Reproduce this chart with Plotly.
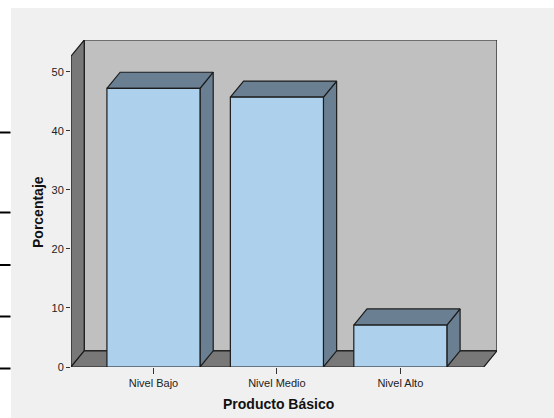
import plotly.graph_objects as go

# Porcentaje por nivel de Producto Básico
categories = ["Nivel Bajo", "Nivel Medio", "Nivel Alto"]
percentages = [47.2, 45.7, 7.1]
y_ticks = [0, 10, 20, 30, 40, 50]

# page / plot-area geometry (pixels)
W, H = 554, 418
L, R, T, B = 71, 57, 40, 51
PW, PH = W - L - R, H - T - B

# 3-D box geometry in data units
X0, X1 = -0.668, 2.676       # front floor edge
YTOP = 52.66                 # front height of the side wall
DX, DY = 0.107, 2.73         # depth offset toward the back
BAR_W = 0.754

FRONT = "#ADD0ED"
SHADE = "#6A7F92"
WALL = "#787878"
BACK = "#C0C0C0"
EDGE = "#1C1C1C"
BG = "#F0F0F0"


def px(x):
    return (x - L) / PW


def py(y):
    return (T + PH - y) / PH


def poly(xs, ys, color):
    return go.Scatter(x=xs + [xs[0]], y=ys + [ys[0]], mode="lines", fill="toself",
                      fillcolor=color, line=dict(color=EDGE, width=1.2),
                      hoverinfo="skip", showlegend=False)


fig = go.Figure()

# box walls
fig.add_trace(poly([X0 + DX, X1 + DX, X1 + DX, X0 + DX],
                   [DY, DY, YTOP + DY, YTOP + DY], BACK))
fig.add_trace(poly([X0, X0 + DX, X0 + DX, X0],
                   [0, DY, YTOP + DY, YTOP], WALL))
fig.add_trace(poly([X0, X1, X1 + DX, X0 + DX],
                   [0, 0, DY, DY], WALL))

# bars: side, top and front faces
for i, v in enumerate(percentages):
    xl, xr = i - BAR_W / 2, i + BAR_W / 2
    fig.add_trace(poly([xr, xr + DX, xr + DX, xr], [0, DY, v + DY, v], SHADE))
    fig.add_trace(poly([xl, xr, xr + DX, xl + DX], [v, v, v + DY, v + DY], SHADE))
    fig.add_trace(poly([xl, xr, xr, xl], [0, 0, v, v], FRONT))

shapes = [
    # light panel behind the chart
    dict(type="rect", xref="paper", yref="paper", x0=px(11), x1=px(W), y0=py(H), y1=py(8),
         fillcolor=BG, line=dict(width=0), layer="below"),
]
# rule lines at the left page margin
for yy in [132.5, 212.5, 265, 316.5, 368.5]:
    shapes.append(dict(type="line", xref="paper", yref="paper", x0=px(0), x1=px(10.5),
                       y0=py(yy), y1=py(yy), line=dict(color="#000000", width=2)))

fig.update_layout(
    width=W, height=H,
    margin=dict(l=L, r=R, t=T, b=B),
    paper_bgcolor="#FFFFFF",
    plot_bgcolor="rgba(0,0,0,0)",
    font=dict(family="Liberation Sans, Arial, sans-serif", color="#222222"),
    shapes=shapes,
    showlegend=False,
    xaxis=dict(range=[X0, X1 + DX], tickvals=[0, 1, 2], ticktext=categories,
               ticks="outside", ticklen=6, tickcolor="#333333", tickwidth=1,
               showgrid=False, zeroline=False, showline=False,
               tickfont=dict(size=11), fixedrange=True),
    yaxis=dict(range=[0, YTOP + DY], tickvals=y_ticks,
               ticks="outside", ticklen=4, tickcolor="#333333", tickwidth=1,
               showgrid=False, zeroline=False, showline=False,
               tickfont=dict(size=11), fixedrange=True),
    annotations=[
        dict(text="<b>Producto Básico</b>", xref="paper", yref="paper",
             x=px(278), y=py(404), showarrow=False, font=dict(size=14, color="#111111"),
             xanchor="center", yanchor="middle"),
        dict(text="<b>Porcentaje</b>", xref="paper", yref="paper",
             x=px(38), y=py(212), showarrow=False, textangle=-90,
             font=dict(size=14, color="#111111"), xanchor="center", yanchor="middle"),
    ],
)

fig.write_html("out.html")
